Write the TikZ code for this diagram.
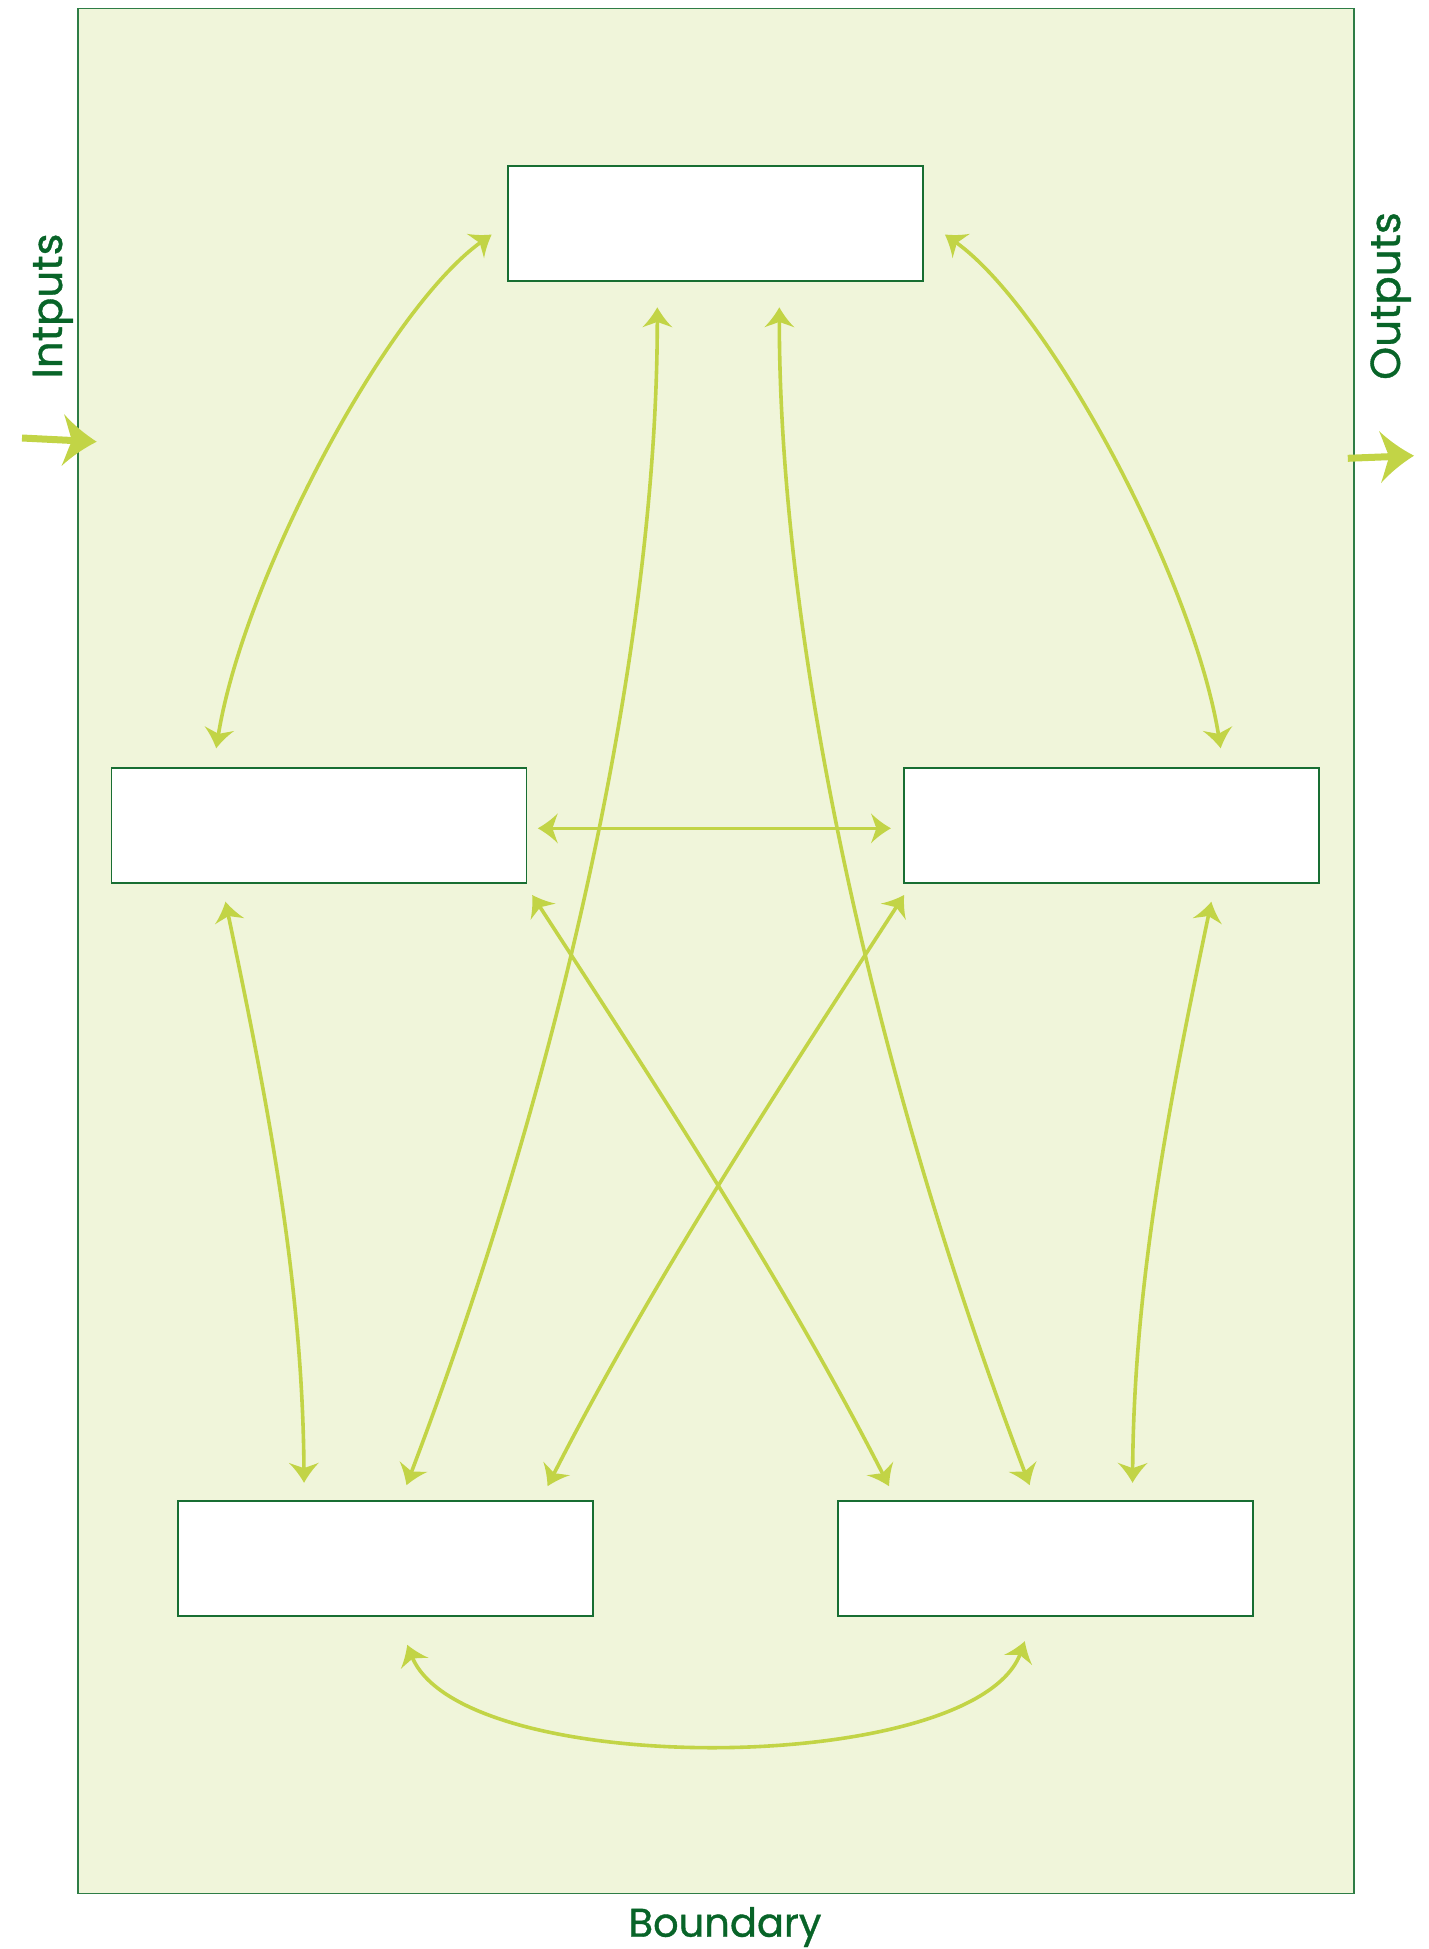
\documentclass[tikz,border=0pt]{standalone}
\usepackage{fontspec}
\setmainfont{Poppins}
\newfontfamily\labelfont{Poppins}[FakeBold=0.9]
\usetikzlibrary{arrows.meta}

\definecolor{fieldbg}{RGB}{240,245,218}
\definecolor{framegreen}{RGB}{46,125,70}
\definecolor{boxgreen}{RGB}{24,110,50}
\definecolor{labelgreen}{RGB}{8,100,40}
\definecolor{lime}{RGB}{194,212,70}

% Filled arrow head with swept-back, curved barbs
\pgfdeclarearrow{
  name = Swept,
  parameters = {\the\pgfarrowlength,\the\pgfarrowwidth},
  setup code = {
    \pgfarrowssettipend{0pt}
    \pgfarrowssetlineend{-.62\pgfarrowlength}
    \pgfarrowssetvisualbackend{-.72\pgfarrowlength}
    \pgfarrowssetbackend{-\pgfarrowlength}
    \pgfarrowshullpoint{0pt}{0pt}
    \pgfarrowshullpoint{-\pgfarrowlength}{.5\pgfarrowwidth}
    \pgfarrowshullpoint{-\pgfarrowlength}{-.5\pgfarrowwidth}
    \pgfarrowssavethe\pgfarrowlength
    \pgfarrowssavethe\pgfarrowwidth
  },
  drawing code = {
    \pgfpathmoveto{\pgfqpoint{0pt}{0pt}}
    \pgfpathcurveto{\pgfqpoint{-.35\pgfarrowlength}{.13\pgfarrowwidth}}{\pgfqpoint{-.7\pgfarrowlength}{.3\pgfarrowwidth}}{\pgfqpoint{-\pgfarrowlength}{.5\pgfarrowwidth}}
    \pgfpathcurveto{\pgfqpoint{-.88\pgfarrowlength}{.3\pgfarrowwidth}}{\pgfqpoint{-.8\pgfarrowlength}{.1\pgfarrowwidth}}{\pgfqpoint{-.72\pgfarrowlength}{0pt}}
    \pgfpathcurveto{\pgfqpoint{-.8\pgfarrowlength}{-.1\pgfarrowwidth}}{\pgfqpoint{-.88\pgfarrowlength}{-.3\pgfarrowwidth}}{\pgfqpoint{-\pgfarrowlength}{-.5\pgfarrowwidth}}
    \pgfpathcurveto{\pgfqpoint{-.7\pgfarrowlength}{-.3\pgfarrowwidth}}{\pgfqpoint{-.35\pgfarrowlength}{-.13\pgfarrowwidth}}{\pgfqpoint{0pt}{0pt}}
    \pgfpathclose
    \pgfusepathqfill
  },
  defaults = {length = 20pt, width = 30pt}
}

\begin{document}
\begin{tikzpicture}[x=1pt,y=-1pt,
  blockbox/.style={draw=boxgreen, line width=1.8pt, fill=white,
    minimum width=415pt, minimum height=115pt, inner sep=0pt, outer sep=0pt},
  link/.style={draw=lime, line width=3.6pt,
    {Swept[length=20pt,width=30pt]}-{Swept[length=20pt,width=30pt]}},
  flow/.style={draw=lime, line width=7pt, -{Swept[length=34pt,width=52pt]}},
  sidelabel/.style={text=labelgreen, inner sep=0pt,
    font=\labelfont\fontsize{42}{50}\selectfont}
]
\useasboundingbox (0,0) rectangle (1429,1949);

% system boundary
\node[draw=framegreen, line width=1.8pt, fill=fieldbg, minimum width=1276pt,
  minimum height=1885pt, inner sep=0pt, anchor=north west] (boundary) at (77.3,7.5) {};

% blocks
\node[blockbox] (top) at (715.5,223.5) {};
\node[blockbox] (ml)  at (319,825.5) {};
\node[blockbox] (mr)  at (1111.75,825.5) {};
\node[blockbox] (bl)  at (385.75,1558.5) {};
\node[blockbox] (br)  at (1045.75,1558.5) {};

% labels
\node[sidelabel, rotate=90, anchor=base] (inlabel)  at (62,306) {Intputs};
\node[sidelabel, rotate=90, anchor=base] (outlabel) at (1400,296) {Outputs};
\node[sidelabel, anchor=base, font=\labelfont\fontsize{40}{48}\selectfont] (boundlabel) at (725,1936.7) {Boundary};

% outer arcs to the top block
\draw[link] ([shift={(104.7,-19.7)}]ml.north west)
  .. controls +(27.2,-170) and +(-104.2,73.8) .. ([shift={(-16.3,11)}]top.west);
\draw[link] ([shift={(-98.6,-19.7)}]mr.north east)
  .. controls +(-27.2,-170) and +(104.2,73.8) .. ([shift={(21.9,11)}]top.east);

% long links from the top block to the bottom row
\draw[link] ([shift={(-58.2,26.3)}]top.south)
  .. controls +(0,342.7) and +(152,-400) .. ([shift={(228.2,-15.8)}]bl.north west);
\draw[link] ([shift={(63.8,26.3)}]top.south)
  .. controls +(0,342.7) and +(-152,-400) .. ([shift={(191.4,-15.8)}]br.north west);

% middle row
\draw[link] ([shift={(11.3,2.8)}]ml.east) -- ([shift={(-13.3,2.8)}]mr.west);

% middle row to bottom row
\draw[link] ([shift={(114,18.7)}]ml.south west)
  .. controls +(42,200) and +(-1.3,-200.3) .. ([shift={(125.8,-18.2)}]bl.north west);
\draw[link] ([shift={(-107.9,18.7)}]mr.south east)
  .. controls +(-42,200) and +(1.3,-200.3) .. ([shift={(-120.7,-18.2)}]br.north east);
\draw[link] ([shift={(5.7,12)}]ml.south east)
  .. controls +(130,200) and +(-102,-200) .. ([shift={(50.8,-14.8)}]br.north west);
\draw[link] ([shift={(-0.1,12)}]mr.south west)
  .. controls +(-130,200) and +(102,-200) .. ([shift={(-45.7,-14.8)}]bl.north east);

% bottom row
\draw[link] ([shift={(21.5,28.8)}]bl.south)
  .. controls +(54.3,135.7) and +(-48.8,135.7) .. ([shift={(-20.95,25.2)}]br.south);

% inputs and outputs
\coordinate (feed) at (22,438);
\draw[flow] (feed) -- ([shift={(19.4,434.2)}]boundary.north west);
\coordinate (drain) at (1414,455.7);
\draw[flow] ([shift={(-7.3,450.8)}]boundary.north east) -- (drain);
\end{tikzpicture}
\end{document}
